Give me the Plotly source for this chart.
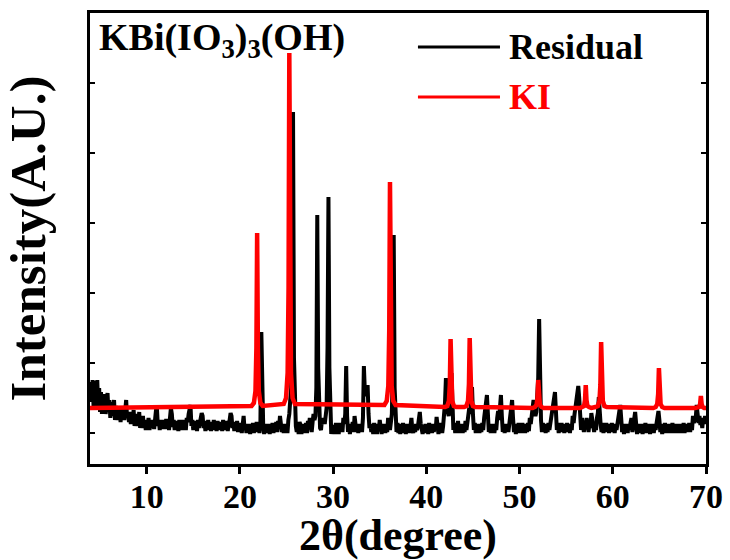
import plotly.graph_objects as go

# ---- Residual scan: intensity (a.u.) sampled every 0.1 deg from 3.9 to 70.0 deg 2theta ----
scan_start = 3.9
scan_step = 0.1
residual_intensity = (
    [12]
    + [26, 6, 28, 2, 24, 27, -2, 28, 0, 20]            # 4.x
    + [-4, 16, -6, 12, 0, 14, -6, 10, 15, -4]           # 5.x
    + [8, -10, 6, -8, 4, 8, -12, 2, -10, 0]             # 6.x
    + [-12, -2, -14, 0, -10, -4, -12, 2, 8, -10]        # 7.x
    + [-4, -14, -6, -16, -4, -14, -2, -18, -6, -16]     # 8.x
    + [-8, -18, -4, -20, -10, -18, -8, -20, -12, -22]   # 9.x
    + [-12, -20, -10, -22, -14, -12, -20, -13, -21, -10]  # 10.x
    + [-2, 0, -18, -12, -22, -14, -20, -12, -21, -14]   # 11.x
    + [-20, -11, -21, -14, -22, -10, 0, -6, -19, -12]   # 12.x
    + [-22, -13, -21, -14, -23, -12, -20, -15, -22, -12]  # 13.x
    + [-21, -13, -22, -10, -14, -6, -2, 3, -18, -12]    # 14.x
    + [-22, -13, -21, -14, -23, -12, -20, -14, -10, -5]  # 15.x
    + [-8, -20, -13, -23, -15, -22, -12, -21, -14, -23]  # 16.x
    + [-15, -22, -12, -21, -14, -23, -13, -21, -15, -22]  # 17.x
    + [-14, -23, -12, -22, -14, -21, -13, -23, -15, -12]  # 18.x
    + [-5, -8, -20, -14, -23, -15, -22, -13, -24, -15]  # 19.x
    + [-24, -16, -25, -12, -8, -22, -16, -25, -17, -24]  # 20.x
    + [-16, -26, -18, -24, -15, -25, -17, -24, -14, -24]  # 21.x
    + [-16, -25, -14, 76, 10, -18, -26, -17, -24, -16]  # 22.x
    + [-25, -17, -26, -16, -24, -15, -25, -17, -23, -14]  # 23.x
    + [-24, -13, -20, -8, -16, -24, -17, -25, -16, -24]  # 24.x
    + [-17, -25, -12, -6, 8, 20, 70, 296, 50, -12]      # 25.x
    + [-18, -24, -15, -26, -14, -17, -26, -16, -25, -17]  # 26.x
    + [-24, -15, -25, -13, -18, -10, -17, -24, -14, -6]  # 27.x
    + [-12, -8, 20, 193, 40, -12, -20, -22, -12, -16]   # 28.x
    + [-10, -16, -8, 0, 60, 211, 40, -15, -26, -17]     # 29.x
    + [-24, -17, -26, -15, -24, -16, -26, -15, -22, -17]  # 30.x
    + [-24, -10, -16, -6, 42, -8, -24, -17, -26, -16]   # 31.x
    + [-22, -14, -24, -8, -15, -24, -17, -25, -16, -22]  # 32.x
    + [-18, -24, -10, 42, 18, 12, 16, 23, -6, -20]      # 33.x
    + [-17, -24, -16, -26, -15, -24, -17, -26, -16, -22]  # 34.x
    + [-12, -20, -26, -16, -24, -17, -25, -16, -24, -10]  # 35.x
    + [-17, -22, -14, -6, 40, 173, 20, -12, -24, -15]   # 36.x
    + [-25, -16, -26, -17, -24, -15, -25, -16, -26, -17]  # 37.x
    + [-24, -16, -25, -18, -10, -22, -25, -18, -24, -16]  # 38.x
    + [-22, -18, -10, -4, -16, -22, -26, -17, -25, -16]  # 39.x
    + [-24, -17, -26, -15, -24, -16, -25, -17, -24, -16]  # 40.x
    + [-22, -9, -18, -26, -15, -24, -16, -25, -18, -8]  # 41.x
    + [5, 30, 5, -4, -8, 0, 10, 35, -6, -22]            # 42.x
    + [-15, -25, -16, -24, -13, -25, -17, -24, -16, -25]  # 43.x
    + [-17, -24, -13, -22, -15, -10, 0, -6, 8, 21]      # 44.x
    + [-6, -22, -15, -25, -17, -24, -16, -25, -17, -24]  # 45.x
    + [-15, -22, -10, -4, 8, 13, -5, -24, -16, -25]     # 46.x
    + [-17, -24, -16, -25, -17, -22, -10, -3, -12, 4]   # 47.x
    + [13, -8, -24, -17, -25, -16, -22, -17, -24, -16]  # 48.x
    + [-10, 2, 8, -10, -24, -16, -26, -17, -25, -15]    # 49.x
    + [-23, -16, -25, -15, -23, -17, -25, -16, -24, -15]  # 50.x
    + [-23, -10, -16, -8, 0, 8, 0, -8, -4, 10]          # 51.x
    + [30, 89, 10, -12, -24, -15, -22, -16, -25, -17]   # 52.x
    + [-24, -15, -22, -16, -10, -4, 5, 10, 16, -3]      # 53.x
    + [-22, -15, -25, -17, -24, -15, -22, -16, -25, -17]  # 54.x
    + [-24, -15, -22, -16, -25, -17, -22, -8, -15, -6]  # 55.x
    + [2, 8, 14, 22, 10, -12, -22, -10, -17, -24]       # 56.x
    + [-15, -20, -10, -17, -24, -15, -20, -5, -12, -17]  # 57.x
    + [-24, -15, -22, -10, -5, 11, -8, -17, -24, -15]   # 58.x
    + [-25, -17, -24, -15, -22, -16, -25, -17, -24, -15]  # 59.x
    + [-22, -16, -25, -17, -22, -15, -10, -5, 3, -10]   # 60.x
    + [-24, -17, -26, -16, -24, -17, -25, -16, -22, -15]  # 61.x
    + [-10, -24, -15, -8, -4, -15, -26, -17, -25, -16]  # 62.x
    + [-24, -17, -26, -16, -24, -15, -25, -17, -24, -16]  # 63.x
    + [-26, -16, -24, -17, -25, -16, -22, -15, -8, -3]  # 64.x
    + [-12, -24, -16, -26, -17, -24, -15, -25, -17, -24]  # 65.x
    + [-16, -25, -17, -24, -15, -25, -17, -24, -16, -25]  # 66.x
    + [-17, -24, -16, -25, -17, -24, -15, -25, -16, -24]  # 67.x
    + [-17, -22, -15, -24, -16, -22, -8, -15, -12, -10]  # 68.x
    + [3, -5, -15, -8, -17, -12, -20, -10, -16, -8]     # 69.x
    + [-14]                                             # 70.0
)
residual_2theta = [round(scan_start + scan_step * i, 2) for i in range(len(residual_intensity))]

# ---- KI reference pattern (peaks with their line profiles) ----
ki_2theta = [
    3.92,
    21.25, 21.5, 21.67, 21.77, 21.85, 21.93, 22.03, 22.2, 22.45,
    24.7, 24.95, 25.12, 25.22, 25.3, 25.38, 25.48, 25.65, 25.9,
    35.5, 35.75, 35.92, 36.02, 36.1, 36.18, 36.28, 36.45, 36.7,
    42.0, 42.25, 42.42, 42.52, 42.6, 42.68, 42.78, 42.95, 43.2,
    44.05, 44.3, 44.47, 44.57, 44.65, 44.73, 44.83, 45.0, 45.25,
    51.4, 51.65, 51.82, 51.92, 52.0, 52.08, 52.18, 52.35, 52.6,
    56.5, 56.75, 56.92, 57.02, 57.1, 57.18, 57.28, 57.45, 57.7,
    58.15, 58.4, 58.57, 58.67, 58.75, 58.83, 58.93, 59.1, 59.35,
    64.35, 64.6, 64.77, 64.87, 64.95, 65.03, 65.13, 65.3, 65.55,
    68.85, 69.1, 69.27, 69.37, 69.45, 69.53, 69.63, 69.8, 70.0,
]
ki_intensity = [
    0,
    2, 5, 17, 60, 175, 60, 17, 5, 2,
    4, 10, 35, 120, 355, 120, 35, 10, 4,
    3, 7, 22, 78, 226, 78, 22, 7, 3,
    1, 2, 7, 24, 69, 24, 7, 2, 1,
    1, 2, 7, 24, 70, 24, 7, 2, 1,
    0, 1, 3, 10, 28, 10, 3, 1, 0,
    0, 1, 2, 8, 23, 8, 2, 1, 0,
    1, 2, 7, 23, 66, 23, 7, 2, 1,
    0, 1, 4, 14, 40, 14, 4, 1, 0,
    0, 0, 1, 4, 12, 4, 1, 0, 0,
]

x_tick_values = [10, 20, 30, 40, 50, 60, 70]
x_range = [3.92, 70]
y_range = [-56, 395]

FONT = "Liberation Serif, Times New Roman, serif"
RED = "#ff0000"

fig = go.Figure()
fig.add_trace(go.Scatter(
    x=residual_2theta, y=residual_intensity, mode="lines", name="Residual",
    line=dict(color="black", width=4), showlegend=False,
))
fig.add_trace(go.Scatter(
    x=ki_2theta, y=ki_intensity, mode="lines", name="KI", xaxis="x2",
    line=dict(color=RED, width=4.5), showlegend=False,
))

# sample name in the upper-left corner
fig.add_annotation(
    x=4.67, y=368, xref="x", yref="y", xanchor="left", yanchor="middle",
    text="KBi(IO<sub>3</sub>)<sub>3</sub>(OH)", showarrow=False,
    font=dict(family=FONT, size=38, color="black", weight="bold"),
)

# key: line samples with labels
legend_x0, legend_x1, legend_text_x = 39.1, 47.9, 48.6
for label, color, ypos in [("Residual", "black", 361), ("KI", RED, 311)]:
    fig.add_shape(type="line", xref="x", yref="y",
                  x0=legend_x0, x1=legend_x1, y0=ypos, y1=ypos,
                  line=dict(color=color, width=3))
    fig.add_annotation(
        x=legend_text_x, y=ypos, xref="x", yref="y", xanchor="left", yanchor="middle",
        text=label, showarrow=False,
        font=dict(family=FONT, size=36, color=color, weight="bold"),
    )

fig.update_layout(
    width=730, height=560,
    margin=dict(l=90, r=24, t=13, b=96, autoexpand=False),
    paper_bgcolor="white", plot_bgcolor="white",
    font=dict(family=FONT, color="black"),
    # labelled bottom axis (tick marks are drawn by the overlaid axis below)
    xaxis=dict(
        range=x_range, tickvals=x_tick_values, ticks="",
        showline=True, linewidth=2.5, linecolor="black", mirror=True,
        showgrid=False, zeroline=False,
        tickfont=dict(family=FONT, size=34, weight="bold"),
        title=dict(text="2θ(degree)", standoff=2,
                   font=dict(family=FONT, size=44, weight="bold")),
    ),
    xaxis2=dict(
        overlaying="x", matches="x", side="bottom", anchor="y",
        tickvals=x_tick_values, ticks="outside", ticklen=9, tickwidth=2.5,
        tickcolor="black", showticklabels=False, showline=False,
        showgrid=False, zeroline=False,
    ),
    yaxis=dict(
        range=y_range, showticklabels=False, ticks="inside", ticklen=5, tickwidth=1.5,
        tickcolor="black", tick0=-25, dtick=70,
        showline=True, linewidth=2.5, linecolor="black", mirror="ticks",
        showgrid=False, zeroline=False,
        title=dict(text="Intensity(A.U.)", standoff=28,
                   font=dict(family=FONT, size=51, weight="bold")),
    ),
)

fig.write_html("out.html")
